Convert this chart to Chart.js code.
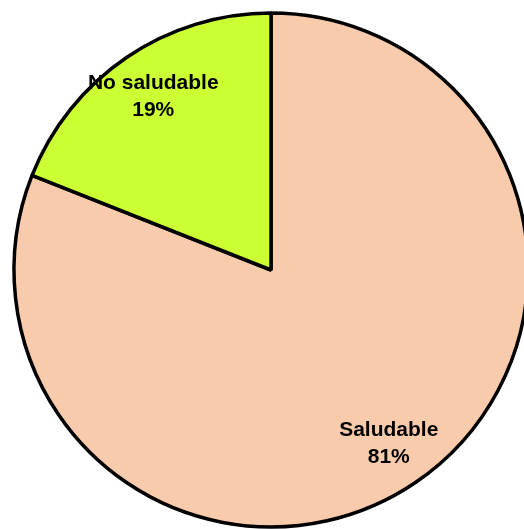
<!DOCTYPE html>
<html>
<head>
<meta charset="utf-8">
<script src="https://cdn.jsdelivr.net/npm/chart.js@4"></script>
<style>
  html, body { margin: 0; padding: 0; background: #fff; }
  #wrap { width: 524px; height: 529px; overflow: hidden; position: relative; }
  #chart { display: block; }
</style>
</head>
<body>
<div id="wrap"><canvas id="chart" width="542" height="540"></canvas></div>
<script>
const categories = ["Saludable", "No saludable"];
const values = [81, 19];
const sliceColors = ["#F8CBAD", "#CCFF33"];

// Category name plus percent, placed along each slice's mid-angle
const sliceLabels = {
  id: "sliceLabels",
  afterDatasetsDraw(chart) {
    const ctx = chart.ctx;
    const meta = chart.getDatasetMeta(0);
    const total = values.reduce((a, b) => a + b, 0);
    ctx.save();
    ctx.font = "bold 21px 'Liberation Sans', Arial, sans-serif";
    ctx.fillStyle = "#000";
    ctx.textAlign = "center";
    ctx.textBaseline = "middle";
    meta.data.forEach((arc, i) => {
      const mid = (arc.startAngle + arc.endAngle) / 2;
      const r = arc.outerRadius * 0.815;
      const x = arc.x + Math.cos(mid) * r;
      const y = arc.y + Math.sin(mid) * r;
      const pct = Math.round(values[i] / total * 100) + "%";
      ctx.fillText(categories[i], x, y - 13.5);
      ctx.fillText(pct, x, y + 13.5);
    });
    ctx.restore();
  }
};

new Chart(document.getElementById("chart"), {
  type: "pie",
  data: {
    labels: categories,
    datasets: [{
      data: values,
      backgroundColor: sliceColors,
      borderColor: "#000",
      borderWidth: 3.5
    }]
  },
  plugins: [sliceLabels],
  options: {
    responsive: false,
    animation: false,
    radius: 257,
    layout: { padding: 0 },
    plugins: {
      legend: { display: false },
      tooltip: { enabled: false }
    }
  }
});
</script>
</body>
</html>
